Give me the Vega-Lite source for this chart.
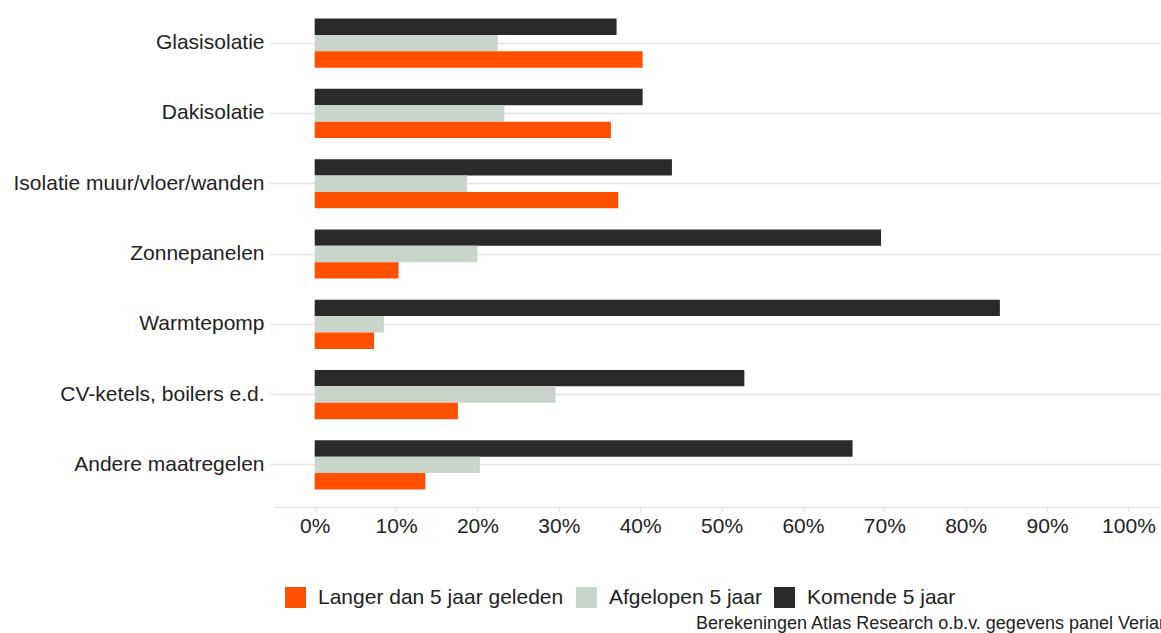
{
  "$schema": "https://vega.github.io/schema/vega-lite/v6.json",
  "width": 887,
  "height": 506,
  "autosize": {"type": "none"},
  "padding": {"left": 274, "top": 1, "right": 0, "bottom": 126},
  "background": "white",
  "title": {
    "text": "Berekeningen Atlas Research o.b.v. gegevens panel Verian",
    "orient": "bottom",
    "anchor": "end",
    "frame": "group",
    "dx": 8,
    "offset": 7,
    "fontSize": 18,
    "fontWeight": "normal",
    "font": "Liberation Sans",
    "color": "#222222",
    "limit": 0
  },
  "data": {
    "values": [
      {"maatregel": "Glasisolatie", "periode": "Komende 5 jaar", "pct": 37.1},
      {"maatregel": "Glasisolatie", "periode": "Afgelopen 5 jaar", "pct": 22.5},
      {"maatregel": "Glasisolatie", "periode": "Langer dan 5 jaar geleden", "pct": 40.3},
      {"maatregel": "Dakisolatie", "periode": "Komende 5 jaar", "pct": 40.3},
      {"maatregel": "Dakisolatie", "periode": "Afgelopen 5 jaar", "pct": 23.3},
      {"maatregel": "Dakisolatie", "periode": "Langer dan 5 jaar geleden", "pct": 36.4},
      {"maatregel": "Isolatie muur/vloer/wanden", "periode": "Komende 5 jaar", "pct": 43.9},
      {"maatregel": "Isolatie muur/vloer/wanden", "periode": "Afgelopen 5 jaar", "pct": 18.7},
      {"maatregel": "Isolatie muur/vloer/wanden", "periode": "Langer dan 5 jaar geleden", "pct": 37.3},
      {"maatregel": "Zonnepanelen", "periode": "Komende 5 jaar", "pct": 69.6},
      {"maatregel": "Zonnepanelen", "periode": "Afgelopen 5 jaar", "pct": 20.0},
      {"maatregel": "Zonnepanelen", "periode": "Langer dan 5 jaar geleden", "pct": 10.3},
      {"maatregel": "Warmtepomp", "periode": "Komende 5 jaar", "pct": 84.2},
      {"maatregel": "Warmtepomp", "periode": "Afgelopen 5 jaar", "pct": 8.5},
      {"maatregel": "Warmtepomp", "periode": "Langer dan 5 jaar geleden", "pct": 7.3},
      {"maatregel": "CV-ketels, boilers e.d.", "periode": "Komende 5 jaar", "pct": 52.8},
      {"maatregel": "CV-ketels, boilers e.d.", "periode": "Afgelopen 5 jaar", "pct": 29.6},
      {"maatregel": "CV-ketels, boilers e.d.", "periode": "Langer dan 5 jaar geleden", "pct": 17.6},
      {"maatregel": "Andere maatregelen", "periode": "Komende 5 jaar", "pct": 66.1},
      {"maatregel": "Andere maatregelen", "periode": "Afgelopen 5 jaar", "pct": 20.3},
      {"maatregel": "Andere maatregelen", "periode": "Langer dan 5 jaar geleden", "pct": 13.6}
    ]
  },
  "mark": {"type": "bar"},
  "encoding": {
    "y": {
      "field": "maatregel",
      "type": "nominal",
      "sort": ["Glasisolatie", "Dakisolatie", "Isolatie muur/vloer/wanden", "Zonnepanelen", "Warmtepomp", "CV-ketels, boilers e.d.", "Andere maatregelen"],
      "scale": {"paddingInner": 0.3, "paddingOuter": 0.25},
      "axis": {
        "title": null,
        "domain": false,
        "grid": true,
        "bandPosition": 0.5,
        "gridColor": "#e3e3e3",
        "gridWidth": 1.3,
        "ticks": true,
        "tickColor": "#e3e3e3",
        "tickWidth": 1.3,
        "tickSize": 4,
        "labelFont": "Liberation Sans",
        "labelFontSize": 21,
        "labelColor": "#222222",
        "labelPadding": 6,
        "labelLimit": 0
      }
    },
    "yOffset": {
      "field": "periode",
      "type": "nominal",
      "scale": {"domain": ["Komende 5 jaar", "Afgelopen 5 jaar", "Langer dan 5 jaar geleden"], "paddingInner": 0, "paddingOuter": 0}
    },
    "x": {
      "field": "pct",
      "type": "quantitative",
      "scale": {"domain": [-5, 104], "nice": false, "zero": false},
      "axis": {
        "title": null,
        "values": [0, 10, 20, 30, 40, 50, 60, 70, 80, 90, 100],
        "labelExpr": "datum.value + '%'",
        "grid": false,
        "domain": true,
        "domainColor": "#e3e3e3",
        "domainWidth": 1.3,
        "ticks": true,
        "tickColor": "#e3e3e3",
        "tickWidth": 1.3,
        "tickSize": 4,
        "labelFont": "Liberation Sans",
        "labelFontSize": 21,
        "labelColor": "#222222",
        "labelPadding": 4
      }
    },
    "color": {
      "field": "periode",
      "type": "nominal",
      "scale": {
        "domain": ["Langer dan 5 jaar geleden", "Afgelopen 5 jaar", "Komende 5 jaar"],
        "range": ["#ff5000", "#c9d4cb", "#2a2a2a"]
      },
      "legend": {
        "title": null,
        "orient": "none",
        "direction": "horizontal",
        "legendX": 11,
        "legendY": 586,
        "symbolType": "square",
        "symbolSize": 441,
        "symbolStrokeWidth": 0,
        "symbolOpacity": 1,
        "labelFont": "Liberation Sans",
        "labelFontSize": 21,
        "labelColor": "#222222",
        "labelOffset": 12,
        "labelLimit": 0,
        "columnPadding": 12,
        "padding": 0
      }
    }
  },
  "config": {
    "view": {"stroke": null}
  }
}
